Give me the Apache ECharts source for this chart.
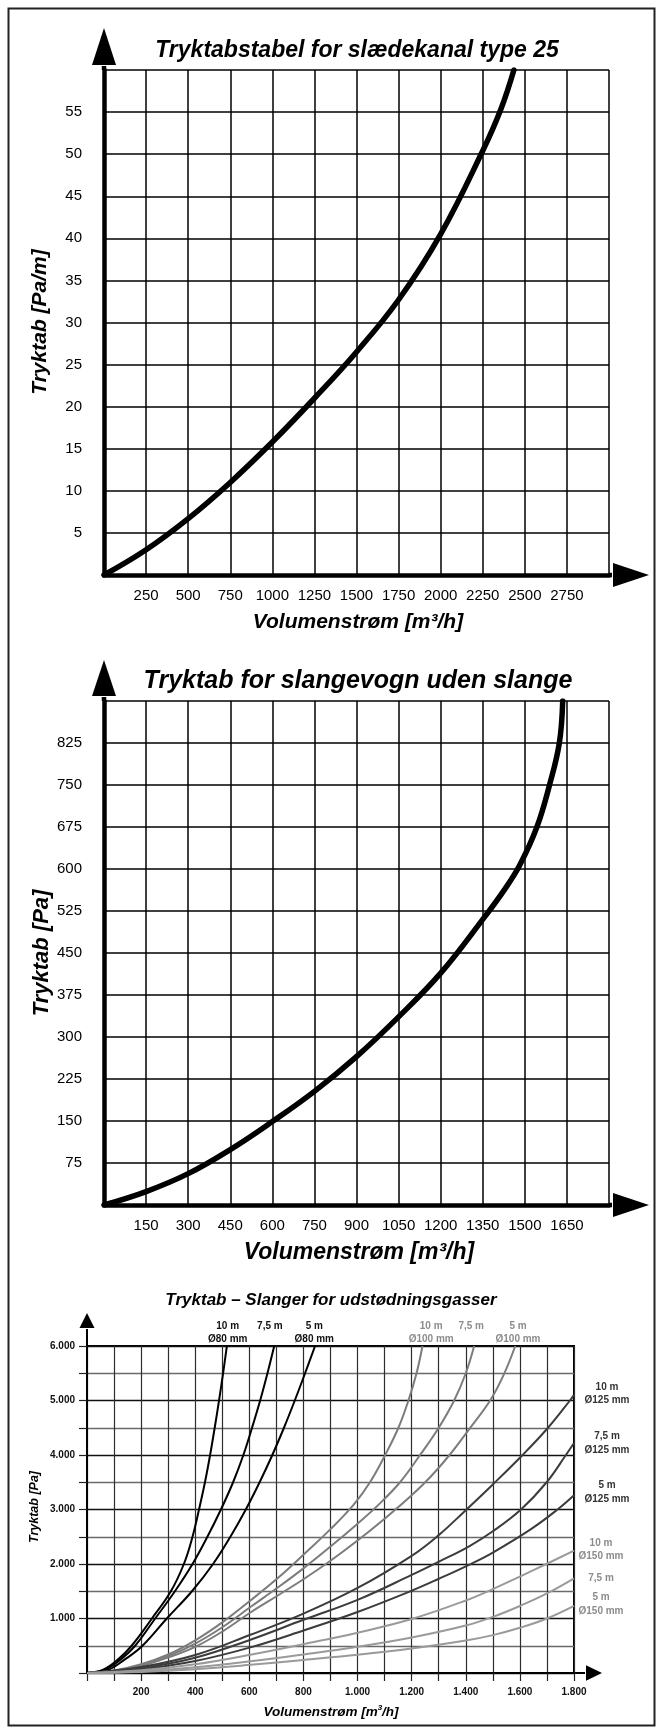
<!DOCTYPE html>
<html><head><meta charset="utf-8">
<script src="https://cdn.jsdelivr.net/npm/echarts@6/dist/echarts.min.js"></script>
<style>html,body{margin:0;padding:0;background:#fff}#c{width:661px;height:1733px}</style>
</head><body><div id="c"></div>
<script>
const FONT = "'Liberation Sans', Arial, Helvetica, sans-serif";

// ---------- Chart 1: Tryktabstabel for slædekanal type 25
const c1Flow = [0, 250, 500, 750, 1000, 1250, 1500, 1750, 2000, 2250, 2357, 2435];
const c1Loss = [0, 3.0, 6.7, 11.0, 15.8, 21.0, 26.5, 32.7, 40.5, 50.4, 55.3, 60];
const c1XLabels = [250, 500, 750, 1000, 1250, 1500, 1750, 2000, 2250, 2500, 2750];
const c1YLabels = [5, 10, 15, 20, 25, 30, 35, 40, 45, 50, 55];

// ---------- Chart 2: Tryktab for slangevogn uden slange
const c2Flow = [0, 150, 300, 450, 600, 750, 900, 1050, 1200, 1350, 1430, 1483, 1543, 1588, 1623, 1635];
const c2Loss = [0, 24, 56, 99, 149, 203, 265, 336, 414, 510, 565, 608, 675, 750, 825, 900];
const c2XLabels = [150, 300, 450, 600, 750, 900, 1050, 1200, 1350, 1500, 1650];
const c2YLabels = [75, 150, 225, 300, 375, 450, 525, 600, 675, 750, 825];

// ---------- Chart 3: Tryktab – Slanger for udstødningsgasser
const c3XLabels = [200, 400, 600, 800, 1000, 1200, 1400, 1600, 1800];
const c3YLabels = [1000, 2000, 3000, 4000, 5000, 6000];
const d80_10 = [[0,0],[60,60],[115,250],[165,500],[240,1000],[310,1500],[358,2000],[390,2500],[414,3000],[436,3500],[455,4000],[472,4500],[488,5000],[503,5500],[517,6000]];
const d80_75 = [[0,0],[65,55],[125,250],[178,500],[252,1000],[325,1500],[390,2000],[445,2500],[495,3000],[540,3500],[578,4000],[610,4500],[640,5000],[667,5500],[692,6000]];
const d80_5  = [[0,0],[75,50],[140,250],[205,500],[295,1000],[388,1500],[466,2000],[530,2500],[587,3000],[638,3500],[685,4000],[728,4500],[768,5000],[806,5500],[843,6000]];
const d100_10 = [[0,0],[100,45],[200,160],[300,340],[400,600],[500,930],[604,1330],[714,1780],[800,2170],[900,2640],[985,3085],[1046,3500],[1102,4000],[1151,4500],[1188,5000],[1218,5500],[1240,6000]];
const d100_75 = [[0,0],[100,40],[200,145],[300,310],[400,540],[500,840],[604,1210],[714,1600],[800,1920],[900,2320],[1000,2740],[1077,3085],[1157,3500],[1231,4000],[1300,4500],[1357,5000],[1400,5500],[1431,6000]];
const d100_5  = [[0,0],[100,35],[200,130],[300,285],[400,480],[500,760],[604,1110],[714,1450],[800,1720],[900,2060],[1000,2430],[1100,2830],[1200,3260],[1270,3600],[1340,4000],[1412,4470],[1490,5000],[1540,5470],[1583,6000]];
const d125_10 = [[0,0],[200,110],[400,330],[604,701],[800,1090],[1000,1560],[1200,2150],[1300,2530],[1394,2960],[1500,3460],[1610,4000],[1704,4500],[1785,5000],[1800,5104]];
const d125_75 = [[0,0],[200,90],[400,280],[604,610],[800,976],[1000,1341],[1200,1799],[1301,2043],[1414,2330],[1500,2600],[1604,3000],[1699,3500],[1770,4000],[1800,4220]];
const d125_5  = [[0,0],[200,70],[400,220],[604,470],[800,780],[1000,1120],[1200,1510],[1301,1730],[1414,1990],[1500,2210],[1641,2640],[1739,3000],[1800,3262]];
const d150_10 = [[0,0],[200,50],[400,160],[604,335],[800,530],[1000,740],[1200,990],[1400,1330],[1500,1540],[1600,1770],[1700,2005],[1800,2244]];
const d150_75 = [[0,0],[200,30],[400,105],[604,215],[800,340],[1000,480],[1200,650],[1400,870],[1500,1030],[1600,1230],[1700,1460],[1800,1738]];
const d150_5  = [[0,0],[200,20],[400,70],[604,150],[800,240],[1000,335],[1200,450],[1400,595],[1500,695],[1600,830],[1700,1000],[1800,1232]];

const C80 = '#000000', C100 = '#7c7c7c', C125 = '#3c3c3c', C150 = '#9a9a9a';

function dk(v) { const s = String(v); return s.length > 3 ? s.slice(0, -3) + '.' + s.slice(-3) : s; }
function pick(list, f) { return v => list.indexOf(v) >= 0 ? (f ? f(v) : String(v)) : ''; }
function zip(xs, ys) { return xs.map((x, i) => [x, ys[i]]); }

const chart = echarts.init(document.getElementById('c'), null, {renderer: 'canvas', width: 661, height: 1733});

function bigAxis(gi, min, max, interval, labels, isX) {
  return {
    gridIndex: gi, type: 'value', min: min, max: max, interval: interval,
    axisLine: {show: true, onZero: false, lineStyle: {color: '#000', width: 4.5}},
    axisTick: {show: false},
    axisLabel: {formatter: pick(labels), fontSize: 15, color: '#000', fontFamily: FONT, margin: isX ? 13 : 22},
    splitLine: {show: true, lineStyle: {color: '#000', width: 1.5}}
  };
}
const c3X = {
  gridIndex: 2, type: 'value', min: 0, max: 1800, interval: 100,
  axisLine: {show: true, onZero: false, lineStyle: {color: '#000', width: 2}},
  axisTick: {show: true, length: 8, lineStyle: {color: '#222', width: 1.2}},
  axisLabel: {formatter: pick(c3XLabels, dk), fontSize: 10, fontWeight: 'bold', color: '#111', fontFamily: FONT, margin: 14},
  splitLine: {show: true, lineStyle: {color: '#2e2e2e', width: 1.2}}
};
const c3Y = {
  gridIndex: 2, type: 'value', min: 0, max: 6000, interval: 1000,
  axisLine: {show: true, onZero: false, lineStyle: {color: '#000', width: 2}},
  axisTick: {show: true, length: 8, lineStyle: {color: '#222', width: 1.2}},
  minorTick: {show: true, splitNumber: 2, length: 8, lineStyle: {color: '#222', width: 1.2}},
  axisLabel: {formatter: pick(c3YLabels, dk), fontSize: 10, fontWeight: 'bold', color: '#111', fontFamily: FONT, margin: 12},
  splitLine: {show: true, lineStyle: {color: '#111', width: 1.3}},
  minorSplitLine: {show: true, lineStyle: {color: '#6a6a6a', width: 1.3}}
};
function c3Line(data, color) {
  return {type: 'line', xAxisIndex: 2, yAxisIndex: 2, data: data, smooth: 0.4, showSymbol: false, silent: true,
    lineStyle: {color: color, width: 2}, z: 3};
}

const option = {
  animation: false,
  backgroundColor: '#fff',
  textStyle: {fontFamily: FONT},
  grid: [
    {left: 104, top: 70, width: 505, height: 505},
    {left: 104, top: 701, width: 505, height: 504},
    {left: 87, top: 1346, width: 487, height: 327, show: true, borderColor: '#000', borderWidth: 2, backgroundColor: 'transparent'}
  ],
  xAxis: [
    bigAxis(0, 0, 3000, 250, c1XLabels, true),
    bigAxis(1, 0, 1800, 150, c2XLabels, true),
    c3X
  ],
  yAxis: [
    bigAxis(0, 0, 60, 5, c1YLabels, false),
    bigAxis(1, 0, 900, 75, c2YLabels, false),
    c3Y
  ],
  series: [
    {type: 'line', xAxisIndex: 0, yAxisIndex: 0, data: zip(c1Flow, c1Loss), smooth: 0.4, showSymbol: false,
      lineStyle: {color: '#000', width: 5.5, cap: 'round'}, z: 3},
    {type: 'line', xAxisIndex: 1, yAxisIndex: 1, data: zip(c2Flow, c2Loss), smooth: 0.4, showSymbol: false,
      lineStyle: {color: '#000', width: 5.5, cap: 'round'}, z: 3},
    c3Line(d80_10, C80), c3Line(d80_75, C80), c3Line(d80_5, C80),
    c3Line(d100_10, C100), c3Line(d100_75, C100), c3Line(d100_5, C100),
    c3Line(d125_10, C125), c3Line(d125_75, C125), c3Line(d125_5, C125),
    c3Line(d150_10, C150), c3Line(d150_75, C150), c3Line(d150_5, C150)
  ]
};
chart.setOption(option);

// ---------- decorations: arrows, titles, labels (positions from the axes)
const g = [];
function px(gi, pt) { return chart.convertToPixel({gridIndex: gi}, pt); }
function arrowUp(gi, pt, ext, head, half, lw) {
  const p = px(gi, pt);
  const base = p[1] - ext + head;
  g.push({type: 'line', shape: {x1: p[0], y1: p[1], x2: p[0], y2: base + 1}, style: {stroke: '#000', lineWidth: lw}, z: 10});
  g.push({type: 'polygon', shape: {points: [[p[0], p[1] - ext], [p[0] - half, base], [p[0] + half, base]]}, style: {fill: '#000'}, z: 10});
}
function arrowRight(gi, pt, ext, head, half, lw) {
  const p = px(gi, pt);
  const base = p[0] + ext - head;
  g.push({type: 'line', shape: {x1: p[0], y1: p[1], x2: base - 1, y2: p[1]}, style: {stroke: '#000', lineWidth: lw}, z: 10});
  g.push({type: 'polygon', shape: {points: [[p[0] + ext, p[1]], [base, p[1] - half], [base, p[1] + half]]}, style: {fill: '#000'}, z: 10});
}
arrowUp(0, [0, 60], 42, 37, 12, 4.5);
arrowRight(0, [3000, 0], 40, 36, 12, 4.5);
arrowUp(1, [0, 900], 41, 36, 12, 4.5);
arrowRight(1, [1800, 0], 40, 36, 12, 4.5);
arrowUp(2, [0, 6000], 33, 15, 7.5, 2);
arrowRight(2, [1800, 0], 28, 16, 7.7, 2);

function txt(x, y, text, size, opts) {
  opts = opts || {};
  const el = {type: 'text', x: x, y: y, z: 20, rotation: opts.rot || 0,
    style: {text: text, fontSize: size, fontWeight: opts.weight || 'bold', fontStyle: opts.italic === false ? 'normal' : 'italic',
      fontFamily: FONT, fill: opts.color || '#000', align: 'center', verticalAlign: 'middle', rich: opts.rich}};
  g.push(el);
}
// chart titles and axis names
txt(357, 51, 'Tryktabstabel for slædekanal type 25', 23);
txt(40, 322, 'Tryktab [Pa/m]', 21, {rot: Math.PI / 2});
txt(358, 622, 'Volumenstrøm [m³/h]', 21);

txt(358, 681, 'Tryktab for slangevogn uden slange', 25);
txt(42, 953, 'Tryktab [Pa]', 22, {rot: Math.PI / 2});
txt(359, 1253, 'Volumenstrøm [m³/h]', 23);

txt(331, 1300, 'Tryktab – Slanger for udstødningsgasser', 17);
txt(35, 1507, 'Tryktab [Pa]', 12.5, {rot: Math.PI / 2});
txt(331, 1712, '{a|Volumenstrøm [m}{s|3}{a|/h]}', 13.5, {rich: {
  a: {fontSize: 13.5, fontWeight: 'bold', fontStyle: 'italic', fontFamily: FONT, fill: '#000'},
  s: {fontSize: 8, fontWeight: 'bold', fontStyle: 'italic', fontFamily: FONT, fill: '#000', verticalAlign: 'top', padding: [0, 0, 8, 0]}}});

// curve labels in chart 3
function curveLabel(pt, dx, dys, lines, color) {
  const p = px(2, pt);
  lines.forEach((t, i) => txt(p[0] + dx, p[1] + dys[i], t, 10, {italic: false, color: color}));
}
const topRows = [-20, -7];
curveLabel([520, 6000], 0, topRows, ['10 m', 'Ø80 mm'], '#111');
curveLabel([676, 6000], 0, topRows, ['7,5 m'], '#111');
curveLabel([840, 6000], 0, topRows, ['5 m', 'Ø80 mm'], '#111');
curveLabel([1272, 6000], 0, topRows, ['10 m', 'Ø100 mm'], '#8c8c8c');
curveLabel([1420, 6000], 0, topRows, ['7,5 m'], '#8c8c8c');
curveLabel([1593, 6000], 0, topRows, ['5 m', 'Ø100 mm'], '#8c8c8c');
const sideRows = [-13.5, 0];
curveLabel([1800, 5000], 33, sideRows, ['10 m', 'Ø125 mm'], '#333');
curveLabel([1800, 4090], 33, sideRows, ['7,5 m', 'Ø125 mm'], '#333');
curveLabel([1800, 3192], 33, sideRows, ['5 m', 'Ø125 mm'], '#333');
curveLabel([1800, 2136], 27, sideRows, ['10 m', 'Ø150 mm'], '#8c8c8c');
curveLabel([1800, 1740], 27, [0], ['7,5 m'], '#8c8c8c');
curveLabel([1800, 1141], 27, sideRows, ['5 m', 'Ø150 mm'], '#8c8c8c');

// outer frame
g.push({type: 'rect', shape: {x: 8.5, y: 8.5, width: 646, height: 1717}, style: {fill: 'none', stroke: '#222', lineWidth: 2}, z: 1});

chart.setOption({graphic: g});
</script>
</body></html>
